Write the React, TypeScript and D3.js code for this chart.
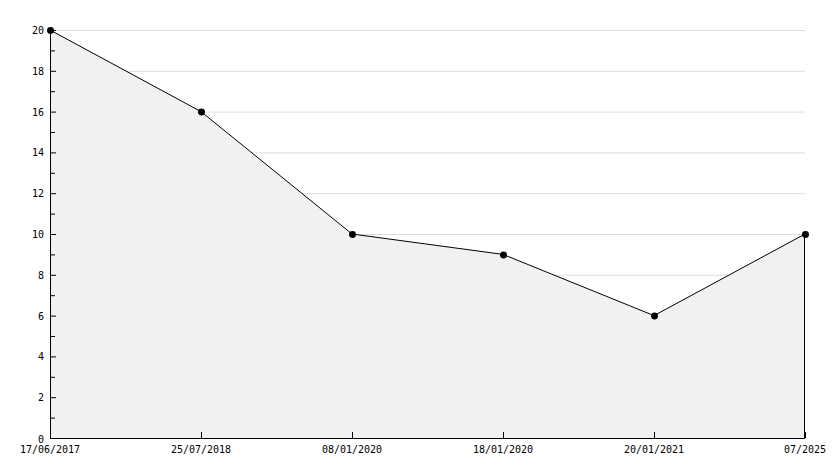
import React from "react";
import * as d3 from "d3";

const categories = ["17/06/2017", "25/07/2018", "08/01/2020", "18/01/2020", "20/01/2021", "07/2025"];
const values = [20, 16, 10, 9, 6, 10];
const yTicks = [0, 2, 4, 6, 8, 10, 12, 14, 16, 18, 20];
const yMinor = [1, 3, 5, 7, 9, 11, 13, 15, 17, 19];

const W = 834, H = 468;
const left = 50, right = 805, top = 30, bottom = 438;

export default function App() {
  const x = d3.scalePoint<string>().domain(categories).range([left, right]);
  const y = d3.scaleLinear().domain([0, 20]).range([bottom, top]);
  const pts: [number, number][] = categories.map((c, i) => [x(c)!, y(values[i])]);
  const area = d3.area<[number, number]>().x(d => d[0]).y0(y(0)).y1(d => d[1]);
  const line = d3.line<[number, number]>().x(d => d[0]).y(d => d[1]);
  const font = "'DejaVu Sans Mono', monospace";
  const last = pts[pts.length - 1];
  return (
    <svg width={W} height={H} style={{ position: "absolute", left: 0, top: 0, background: "#fff" }}>
      {yTicks.map(t => (
        <line key={"g" + t} x1={left} x2={right} y1={y(t) + 0.5} y2={y(t) + 0.5} stroke="#dcdcdc" strokeWidth={1} />
      ))}
      <path d={area(pts)!} fill="#f1f1f1" />
      <line x1={last[0] - 0.5} x2={last[0] - 0.5} y1={last[1]} y2={bottom} stroke="#000" strokeWidth={1} />
      <path d={line(pts)!} fill="none" stroke="#000" strokeWidth={1} />
      {/* axes */}
      <line x1={left + 0.5} x2={left + 0.5} y1={top} y2={bottom + 1} stroke="#000" strokeWidth={1} />
      <line x1={left} x2={right} y1={bottom + 0.5} y2={bottom + 0.5} stroke="#000" strokeWidth={1} />
      {yTicks.map(t => (
        <g key={"t" + t}>
          <line x1={left} x2={left + 6} y1={y(t) + 0.5} y2={y(t) + 0.5} stroke="#000" />
          <text x={44} y={y(t) + (t === 0 ? 5 : 4)} textAnchor="end" fontFamily={font} fontSize={10} fill="#000">{t}</text>
        </g>
      ))}
      {yMinor.map(t => (
        <line key={"m" + t} x1={left} x2={left + 5} y1={y(t) + 0.5} y2={y(t) + 0.5} stroke="#000" />
      ))}
      {categories.map(c => (
        <g key={c}>
          <line x1={x(c)! + 0.5} x2={x(c)! + 0.5} y1={bottom} y2={bottom - 6} stroke="#000" />
          <text x={x(c)!} y={453} textAnchor="middle" fontFamily={font} fontSize={10} fill="#000">{c}</text>
        </g>
      ))}
      {pts.map((p, i) => (
        <path key={"p" + i} d={d3.symbol().type(d3.symbolCircle).size(38)()!} transform={`translate(${p[0] + 0.5},${p[1] + 0.5})`} fill="#000" />
      ))}
    </svg>
  );
}
